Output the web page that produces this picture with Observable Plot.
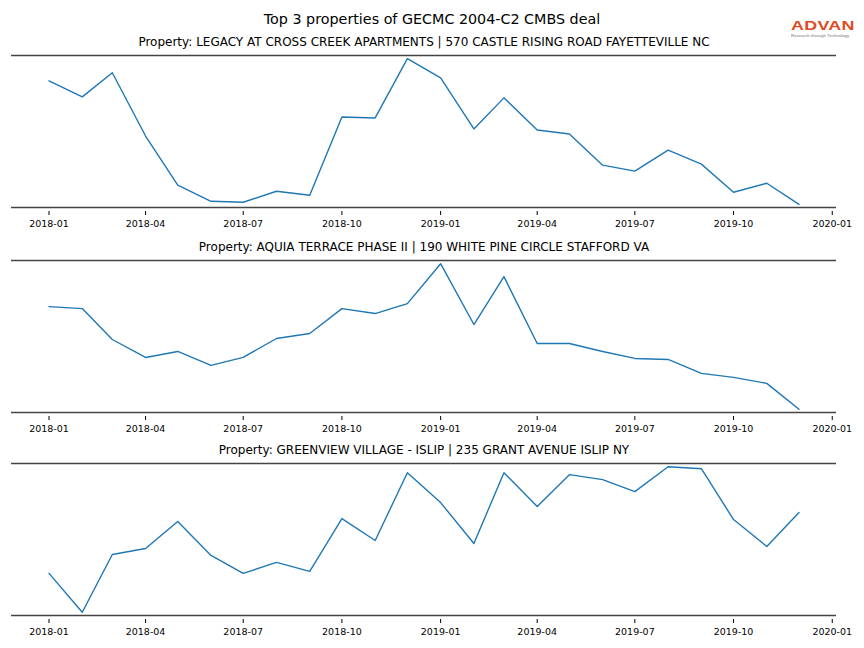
<!DOCTYPE html>
<html><head><meta charset="utf-8">
<script src="https://cdn.jsdelivr.net/npm/d3@7"></script>
<script src="https://cdn.jsdelivr.net/npm/@observablehq/plot@0.6"></script>
<style>
body{margin:0;background:#fff;font-family:"DejaVu Sans",sans-serif;}
#wrap{position:relative;width:864px;height:648px;overflow:hidden;}
#title{position:absolute;left:0;width:864px;top:10px;text-align:center;font-size:14.3px;line-height:18px;color:#000;}
.panel{position:absolute;left:0;}
#logo{position:absolute;left:791px;top:19px;width:70px;}
#logo .brand{font-family:"Liberation Sans",Arial,sans-serif;font-weight:bold;font-size:13px;color:#e04a22;line-height:14px;transform:scaleX(1.38);transform-origin:left center;letter-spacing:0.2px;}
#logo .tag{font-family:"Liberation Sans",Arial,sans-serif;font-size:4.4px;color:#777;line-height:6px;margin-top:0px;}
</style></head><body>
<div id="wrap">
  <div id="title"></div>
  <div id="logo"><div class="brand">ADVAN</div><div class="tag">Research through Technology</div></div>
</div>
<script>
const chartTitle = "Top 3 properties of GECMC 2004-C2 CMBS deal";
const months = ["2018-01","2018-02","2018-03","2018-04","2018-05","2018-06","2018-07","2018-08","2018-09","2018-10","2018-11","2018-12",
                "2019-01","2019-02","2019-03","2019-04","2019-05","2019-06","2019-07","2019-08","2019-09","2019-10","2019-11","2019-12"];
const tickLabels = ["2018-01","2018-04","2018-07","2018-10","2019-01","2019-04","2019-07","2019-10","2020-01"];
const propertyTitles = [
  "Property: LEGACY AT CROSS CREEK APARTMENTS | 570 CASTLE RISING ROAD FAYETTEVILLE NC",
  "Property: AQUIA TERRACE PHASE II | 190 WHITE PINE CIRCLE STAFFORD VA",
  "Property: GREENVIEW VILLAGE - ISLIP | 235 GRANT AVENUE ISLIP NY"
];
const legacyValues = [126,110,134,71,22,6,5,16,12,90,89,148,129,78,109,77,73,42,36,57,43,15,24,3];
const aquiaValues = [105,103,72,54,60,46,54,73,78,103,98,108,148,87,135,68,68,60,53,52,38,34,28,2];
const greenviewValues = [41,2,60,66,93,59,41,52,43,96,74,142,112,71,142,108,140,135,123,148,146,95,68,102];

document.getElementById("title").textContent = chartTitle;

const seriesList = [legacyValues, aquiaValues, greenviewValues];
const panelTops = [30, 235, 438];
const parse = d3.utcParse("%Y-%m");
const tickDates = tickLabels.map(parse);

function makePanel(values, title, top) {
  const data = months.map((m, i) => ({date: parse(m), value: values[i]}));
  const [lo, hi] = d3.extent(values);
  const pad = (hi - lo) * 0.022;
  const t0 = +data[0].date, t1 = +data[data.length - 1].date, span = t1 - t0;
  const yDom = [lo - pad, hi + pad];
  const plot = Plot.plot({
    width: 864, height: 204,
    marginTop: 25, marginBottom: 23, marginLeft: 11, marginRight: 28,
    style: {fontFamily: "DejaVu Sans", fontSize: "9.5px", color: "#000", background: "transparent"},
    x: {type: "utc", domain: [new Date(t0 - span * 0.05), new Date(t1 + span * 0.05)]},
    y: {domain: yDom, axis: null, insetBottom: 4},
    marks: [
      Plot.axisX({ticks: tickDates, tickFormat: d3.utcFormat("%Y-%m"), tickSize: 4, tickPadding: 4.5, label: null, stroke: "#000"}),
      Plot.ruleY(yDom, {stroke: "#444", strokeWidth: 1.6}),
      Plot.lineY(data, {x: "date", y: "value", stroke: "#1f77b4", strokeWidth: 1.4}),
      Plot.text([title], {frameAnchor: "top", lineAnchor: "middle", dy: -13, fontSize: 12, fill: "#000"})
    ]
  });
  const div = document.createElement("div");
  div.className = "panel";
  div.style.top = top + "px";
  div.appendChild(plot);
  document.getElementById("wrap").appendChild(div);
}
seriesList.forEach((v, i) => makePanel(v, propertyTitles[i], panelTops[i]));
</script>
</body></html>
